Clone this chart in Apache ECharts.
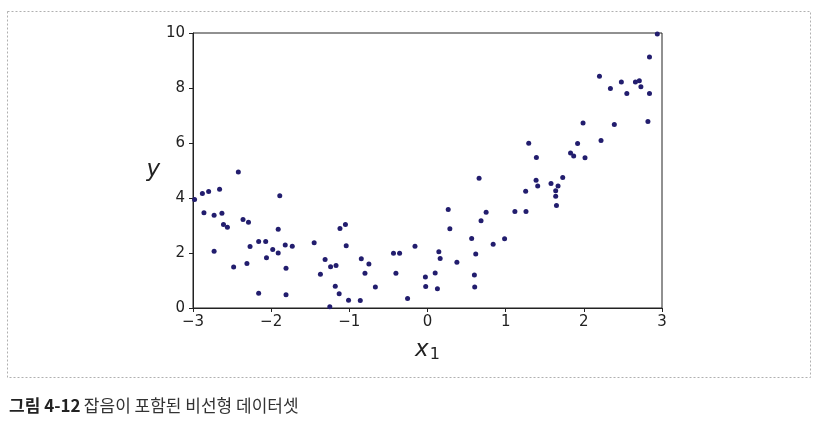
<!DOCTYPE html>
<html>
<head>
<meta charset="utf-8">
<script src="https://cdn.jsdelivr.net/npm/echarts@6/dist/echarts.min.js"></script>
<style>
html,body{margin:0;padding:0;background:#fff;}
#chart{width:820px;height:442px;}
</style>
</head>
<body>
<div id="chart"></div>
<script>
// Data
var xValues = [
  -2.98, -2.88, -2.80, -2.86, -2.73, -2.73, -2.66, -2.63, -2.61, -2.56,
  -2.48, -2.42, -2.36, -2.31, -2.29, -2.27, -2.16, -2.16, -2.07, -2.06,
  -1.98, -1.91, -1.91, -1.89, -1.82, -1.81, -1.81, -1.73, -1.45, -1.37,
  -1.31, -1.25, -1.24, -1.17, -1.18, -1.13, -1.12, -1.05, -1.04, -1.01,
  -0.86, -0.847, -0.80, -0.75, -0.667, -0.435, -0.404, -0.357, -0.255, -0.16,
  -0.027, -0.023, 0.098, 0.127, 0.145, 0.162, 0.265, 0.286, 0.376, 0.565,
  0.60, 0.604, 0.617, 0.66, 0.685, 0.75, 0.84, 0.986,
  1.118, 1.26, 1.256, 1.295, 1.389, 1.393, 1.41, 1.58, 1.64, 1.64,
  1.65, 1.67, 1.73, 1.83, 1.87, 1.92, 1.99, 2.015, 2.20, 2.22,
  2.34, 2.39, 2.48, 2.55, 2.66, 2.71, 2.73, 2.82, 2.84, 2.84, 2.94
];
var yValues = [
  3.95, 4.16, 4.24, 3.46, 2.06, 3.37, 4.32, 3.45, 3.04, 2.94,
  1.49, 4.95, 3.22, 1.62, 3.12, 2.24, 2.42, 0.54, 2.42, 1.83,
  2.13, 2.00, 2.86, 4.08, 2.29, 1.45, 0.48, 2.25, 2.37, 1.23,
  1.76, 0.05, 1.50, 1.55, 0.79, 0.52, 2.89, 3.04, 2.26, 0.28,
  0.27, 1.79, 1.26, 1.60, 0.76, 1.99, 1.26, 1.99, 0.35, 2.25,
  1.13, 0.78, 1.27, 0.70, 2.05, 1.80, 3.58, 2.88, 1.66, 2.53,
  1.20, 0.76, 1.96, 4.72, 3.17, 3.48, 2.32, 2.52,
  3.51, 3.51, 4.25, 5.99, 4.65, 5.47, 4.44, 4.53, 4.26, 4.06,
  3.73, 4.44, 4.75, 5.64, 5.53, 5.98, 6.73, 5.46, 8.43, 6.09,
  7.98, 6.67, 8.22, 7.80, 8.22, 8.26, 8.05, 6.78, 9.13, 7.80, 9.96
];
var xTicks = [-3, -2, -1, 0, 1, 2, 3];
var yTicks = [0, 2, 4, 6, 8, 10];
var xLabel = 'x';
var xLabelSub = '1';
var yLabel = 'y';
var captionBold = '그림 4-12';
var captionText = '잡음이 포함된 비선형 데이터셋';

var points = xValues.map(function (x, i) { return [x, yValues[i]]; });

var chart = echarts.init(document.getElementById('chart'), null, {renderer: 'canvas'});
var tickFont = 'DejaVu Sans';
var ink = '#222';
chart.setOption({
  backgroundColor: '#fff',
  animation: false,
  grid: {
    left: 193, top: 33, right: 158, bottom: 134,
    show: true, borderColor: '#222', borderWidth: 1, backgroundColor: 'transparent'
  },
  xAxis: {
    type: 'value',
    min: xTicks[0], max: xTicks[xTicks.length - 1], interval: 1,
    axisLine: {show: true, onZero: false, lineStyle: {color: ink, width: 1}},
    axisTick: {show: true, inside: false, length: 4, lineStyle: {color: ink}},
    splitLine: {show: false},
    axisLabel: {
      color: ink, fontFamily: tickFont, fontSize: 15, margin: 7,
      formatter: function (v) { return String(v).replace('-', '\u2212'); }
    },
    name: '{x|' + xLabel + '}{s|' + xLabelSub + '}',
    nameLocation: 'middle', nameGap: 28,
    nameTextStyle: {
      rich: {
        x: {fontFamily: tickFont, fontStyle: 'italic', fontSize: 23, color: ink, lineHeight: 26, verticalAlign: 'bottom'},
        s: {fontFamily: tickFont, fontSize: 16, color: ink, lineHeight: 18, verticalAlign: 'bottom', padding: [0, 0, -1, 1]}
      }
    }
  },
  yAxis: {
    type: 'value',
    min: yTicks[0], max: yTicks[yTicks.length - 1], interval: 2,
    axisLine: {show: true, onZero: false, lineStyle: {color: ink, width: 1}},
    axisTick: {show: true, inside: false, length: 4, lineStyle: {color: ink}},
    splitLine: {show: false},
    axisLabel: {color: ink, fontFamily: tickFont, fontSize: 15, margin: 8},
    name: yLabel,
    nameLocation: 'middle', nameGap: 26, nameRotate: 0,
    nameTextStyle: {fontFamily: tickFont, fontStyle: 'italic', fontSize: 23, color: ink, padding: [0, 0, 18, 0]}
  },
  graphic: [
    {
      type: 'rect', silent: true,
      shape: {x: 7.5, y: 11.5, width: 803, height: 366},
      style: {fill: 'none', stroke: '#b0b0b0', lineWidth: 1, lineDash: [2, 2]}
    },
    {
      type: 'text', left: 9, top: 397,
      style: {
        text: '{b|' + captionBold + '} {r|' + captionText + '}',
        rich: {
          b: {fontFamily: 'Noto Sans CJK KR', fontWeight: 'bold', fontSize: 17, fill: '#222'},
          r: {fontFamily: 'Noto Sans CJK KR', fontSize: 17, fill: '#333'}
        }
      }
    }
  ],
  series: [{
    type: 'scatter',
    data: points,
    symbol: 'circle',
    symbolSize: 5,
    clip: false,
    itemStyle: {color: '#221d6e', opacity: 1}
  }]
});
</script>
</body>
</html>
